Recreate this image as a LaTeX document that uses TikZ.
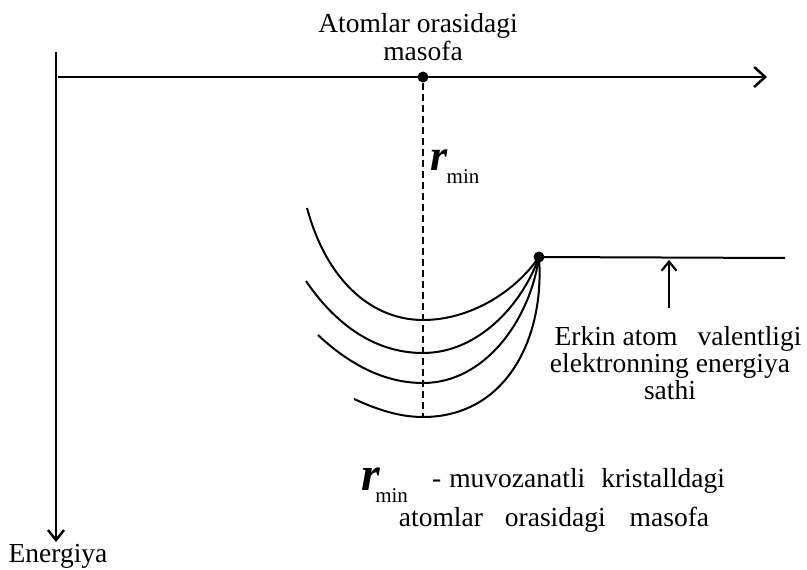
\documentclass[tikz,border=0pt]{standalone}
\usepackage{fontspec}
\setmainfont{Liberation Serif}
\usetikzlibrary{arrows.meta}
\begin{document}
\begin{tikzpicture}[x=1pt,y=-1pt,
  lbl/.style={font=\fontsize{27.5}{28}\selectfont, inner sep=0pt, anchor=base},
  dot/.style={circle, fill=black, inner sep=0pt, minimum size=11pt},
  ax/.style={line width=2pt},
  curve/.style={line width=2pt},
  rsym/.style={inner sep=0pt, anchor=base west, font=\fontsize{#1}{#1}\selectfont\bfseries\itshape},
  sub/.style={inner sep=0pt, anchor=base west, font=\fontsize{21}{21}\selectfont}]
\useasboundingbox (0,0) rectangle (807,570);
% axes
\coordinate (xend) at (767,77);
\coordinate (ytop) at (56,52);
\coordinate (yend) at (56,542);
\coordinate (xstart) at (58,77);
\draw[ax,-{Straight Barb[length=11pt,width=20pt,line width=2.5pt]}] (xstart) -- (xend);
\draw[ax,-{Straight Barb[length=10pt,width=16pt,line width=2.5pt]}] (ytop) -- (yend);
\node[lbl] (energ) at (58,562) {Energiya};
\node[lbl] (xlab1) at (418,32) {Atomlar orasidagi};
\node[lbl] (xlab2) at (423,60) {masofa};
% rmin dashed line
\node[dot] (d1) at (423,77) {};
\coordinate (dbot) at (423,418);
\draw[line width=1.6pt, dash pattern=on 7pt off 4pt] (d1) -- (dbot);
\node[rsym=44] (r1) at (430,170) {r};
\node[sub] (m1) at (r1.base east) [yshift=-13pt, xshift=-1pt] {min};
% curves
\node[dot] (d2) at (539,257) {};
\coordinate (s1) at (307,208);
\coordinate (s2) at (306,281);
\coordinate (s3) at (318,335);
\coordinate (s4) at (354,399);
\draw[curve] (s1) .. controls (328,285) and (375,320) .. (423,320) .. controls (470,320) and (515,292) .. (d2.center);
\draw[curve] (s2) .. controls (338,328) and (378,353) .. (423,353) .. controls (478,353) and (522,305) .. (d2.center);
\draw[curve] (s3) .. controls (350,365) and (385,383) .. (423,383) .. controls (485,383) and (530,320) .. (d2.center);
\draw[curve] (s4) .. controls (378,410) and (400,417) .. (423,417) .. controls (505,417) and (545,340) .. (d2.center);
% level line
\coordinate (lend) at (785,258);
\draw[line width=2pt] (d2.center) -- (lend);
\coordinate (abot) at (669,308);
\coordinate (atop) at (669,260);
\draw[line width=2pt,-{Straight Barb[length=9pt,width=15pt,line width=2.2pt]}] (abot) -- (atop);
\node[lbl] (erk1) at (678,345) {Erkin atom\hspace{20pt}valentligi};
\node[lbl] (erk2) at (670,372) {elektronning energiya};
\node[lbl] (erk3) at (670,399) {sathi};
% bottom legend
\node[rsym=48] (r2) at (361,490) {r};
\node[sub] (m2) at (r2.base east) [yshift=-12pt, xshift=-5pt] {min};
\node[lbl, anchor=base west] (leg1) at (432,487) {-\hspace{8pt}muvozanatli\hspace{16pt}kristalldagi};
\node[lbl] (leg2) at (554,526) {atomlar\hspace{22pt}orasidagi\hspace{24pt}masofa};
\end{tikzpicture}
\end{document}
